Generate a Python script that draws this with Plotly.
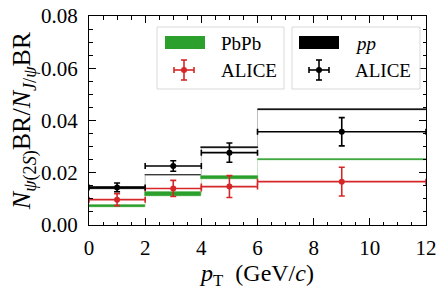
import plotly.graph_objects as go

# Bins (pT, GeV/c)
bin_lo = [0, 2, 4, 6]
bin_hi = [2, 4, 6, 12]

# PbPb model band (green)
pbpb_lo = [0.0068, 0.0112, 0.0176, 0.0250]
pbpb_hi = [0.0077, 0.0126, 0.0188, 0.0254]
# pp model band (black)
pp_lo = [0.0136, 0.0190, 0.0294, 0.0440]
pp_hi = [0.0147, 0.0193, 0.0298, 0.0444]

# ALICE PbPb data (red)
alice_pbpb_x = [1, 3, 5, 9]
alice_pbpb_y = [0.0097, 0.0140, 0.0147, 0.0166]
alice_pbpb_err = [0.0023, 0.0031, 0.0042, 0.0055]
# ALICE pp data (black)
alice_pp_x = [1, 3, 5, 9]
alice_pp_y = [0.0144, 0.0226, 0.0277, 0.0357]
alice_pp_err = [0.0017, 0.0020, 0.0037, 0.0054]

RED = "#d62728"
GREEN = "#2ca02c"
BLACK = "#000000"
FONT = "Liberation Serif, Times New Roman, DejaVu Serif, serif"

fig = go.Figure()

def add_band(lo, hi, color):
    centers = [(a + b) / 2 for a, b in zip(bin_lo, bin_hi)]
    widths = [b - a for a, b in zip(bin_lo, bin_hi)]
    fig.add_trace(go.Bar(x=centers, y=[h - l for l, h in zip(lo, hi)], base=lo,
                         width=widths, marker=dict(color=color, line=dict(width=0.6, color=color)),
                         showlegend=False, hoverinfo="skip"))
    # faint step connectors
    xs, ys = [], []
    for a, b, l, h in zip(bin_lo, bin_hi, lo, hi):
        xs += [a, b]
        ys += [(l + h) / 2, (l + h) / 2]
    fig.add_trace(go.Scatter(x=xs, y=ys, mode="lines",
                             line=dict(color=color, width=1), opacity=0.25,
                             showlegend=False, hoverinfo="skip"))

add_band(pbpb_lo, pbpb_hi, GREEN)
add_band(pp_lo, pp_hi, BLACK)

def add_data(x, y, err, color):
    xerr = [(b - a) / 2 for a, b in zip(bin_lo, bin_hi)]
    fig.add_trace(go.Scatter(x=x, y=y, mode="markers",
                             marker=dict(color=color, size=6),
                             error_y=dict(type="data", array=err, color=color, thickness=1.6, width=3),
                             error_x=dict(type="data", array=xerr, color=color, thickness=1.6, width=3),
                             showlegend=False))

add_data(alice_pbpb_x, alice_pbpb_y, alice_pbpb_err, RED)
add_data(alice_pp_x, alice_pp_y, alice_pp_err, BLACK)

# ---- manual legend (pixel -> paper coordinates) ----
L, R, T, B = 89, 426, 16, 225
def px(v):
    return (v - L) / (R - L)
def py(v):
    return (B - v) / (B - T)

shapes = []
annotations = []
def box(x0, x1, y0, y1):
    shapes.append(dict(type="rect", xref="paper", yref="paper",
                       x0=px(x0), x1=px(x1), y0=py(y1), y1=py(y0),
                       line=dict(color="#d9d9d9", width=1), fillcolor="rgba(255,255,255,0.8)", layer="above"))
def rect(x0, x1, y0, y1, color):
    shapes.append(dict(type="rect", xref="paper", yref="paper",
                       x0=px(x0), x1=px(x1), y0=py(y1), y1=py(y0),
                       line=dict(width=0), fillcolor=color, layer="above"))
def line(x0, y0, x1, y1, color, w=1.6):
    shapes.append(dict(type="line", xref="paper", yref="paper",
                       x0=px(x0), y0=py(y0), x1=px(x1), y1=py(y1),
                       line=dict(color=color, width=w), layer="above"))
def cross(cx, cy, color):
    line(cx - 10, cy, cx + 10, cy, color)
    line(cx, cy - 10, cx, cy + 10, color)
    line(cx - 10, cy - 3, cx - 10, cy + 3, color)
    line(cx + 10, cy - 3, cx + 10, cy + 3, color)
    line(cx - 3, cy - 10, cx + 3, cy - 10, color)
    line(cx - 3, cy + 10, cx + 3, cy + 10, color)
    shapes.append(dict(type="circle", xref="paper", yref="paper",
                       x0=px(cx - 3), x1=px(cx + 3), y0=py(cy + 3), y1=py(cy - 3),
                       fillcolor=color, line=dict(width=0), layer="above"))
def text(x, y, s):
    annotations.append(dict(x=px(x), y=py(y), xref="paper", yref="paper", text=s,
                            showarrow=False, xanchor="left", yanchor="middle",
                            font=dict(family=FONT, size=19, color="black")))

box(157, 284, 27, 89)
rect(165, 205, 36, 49, GREEN)
text(219, 43, "PbPb")
cross(184, 70, RED)
text(219, 70, "ALICE")

box(292, 420, 27, 89)
rect(299, 339, 36, 49, BLACK)
text(353, 43, "<i>pp</i>")
cross(319, 70, BLACK)
text(353, 70, "ALICE")

axis_common = dict(showgrid=False, zeroline=False, showline=True, linecolor="black", linewidth=1,
                   mirror="allticks", ticks="inside", ticklen=7, tickwidth=1, tickcolor="black",
                   automargin=False,
                   tickfont=dict(family=FONT, size=21, color="black"))

fig.update_layout(
    width=445, height=292,
    margin=dict(l=L, r=445 - R, t=T, b=292 - B),
    plot_bgcolor="white", paper_bgcolor="white",
    font=dict(family=FONT, color="black"),
    barmode="overlay", bargap=0,
    showlegend=False,
    shapes=shapes, annotations=annotations,
    xaxis=dict(range=[0, 12], tickvals=[0, 2, 4, 6, 8, 10, 12],
               minor=dict(dtick=0.5, ticks="inside", ticklen=3.5, tickcolor="black"),
               ticklabelstandoff=4,
               title=dict(text="<i>p</i><sub>T</sub>&nbsp; (GeV/<i>c</i>)", font=dict(family=FONT, size=24, color="black"), standoff=2),
               **axis_common),
    yaxis=dict(range=[0, 0.08], tickvals=[0, 0.02, 0.04, 0.06, 0.08], tickformat=".2f",
               minor=dict(dtick=0.005, ticks="inside", ticklen=3.5, tickcolor="black"),
               ticklabelstandoff=6,
               title=dict(text="<i>N</i><sub><i>ψ</i>(2<i>S</i>)</sub>BR/<i>N</i><sub><i>J</i>/<i>ψ</i></sub>BR",
                          font=dict(family=FONT, size=26, color="black"), standoff=2),
               **axis_common),
)

fig.write_html("out.html", config={"displayModeBar": False},
               post_script="document.body.style.margin='0';document.body.style.padding='0';")
